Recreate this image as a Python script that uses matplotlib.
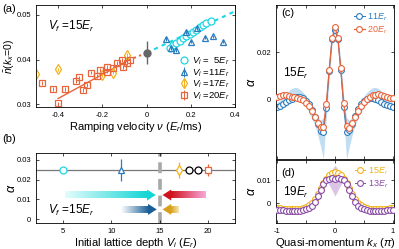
import numpy as np
import matplotlib
matplotlib.use("Agg")
import matplotlib.pyplot as plt
from matplotlib.patches import Polygon
from matplotlib.colors import to_rgb

plt.rcParams['font.family'] = ['Liberation Sans', 'DejaVu Sans']
plt.rcParams['mathtext.fontset'] = 'custom'
plt.rcParams['mathtext.rm'] = 'Liberation Sans'
plt.rcParams['mathtext.it'] = 'Liberation Sans:italic'
plt.rcParams['xtick.direction'] = 'in'
plt.rcParams['ytick.direction'] = 'in'
plt.rcParams['xtick.top'] = True
plt.rcParams['ytick.right'] = True
plt.rcParams['xtick.major.size'] = 2.5
plt.rcParams['ytick.major.size'] = 2.5
plt.rcParams['xtick.major.width'] = 0.5
plt.rcParams['ytick.major.width'] = 0.5
plt.rcParams['axes.linewidth'] = 0.6
plt.rcParams['xtick.labelsize'] = 5.5
plt.rcParams['ytick.labelsize'] = 5.5

CYAN = '#1ED6E6'
BLUE = '#2B7BBF'
GOLD = '#F2B21B'
ORANGE = '#E8643A'
PURPLE = '#8A4CA6'
GRAY = '#666666'

# ---- (a) n(kx=0) vs ramping velocity
v5 = [0.105, 0.120, 0.135, 0.150, 0.165, 0.180, 0.195, 0.210, 0.225, 0.240, 0.255, 0.270, 0.290]
n5 = [0.0427, 0.0432, 0.0437, 0.0442, 0.0448, 0.0453, 0.0457, 0.0461, 0.0466, 0.0472, 0.0478, 0.0482, 0.0486]
v11 = [0.088, 0.111, 0.133, 0.179, 0.201, 0.229, 0.265, 0.301, 0.346]
n11 = [0.0446, 0.0426, 0.0421, 0.0462, 0.0440, 0.0471, 0.0449, 0.0452, 0.0440]
v17 = [-0.500, -0.399, -0.203, -0.150, -0.090]
n17 = [0.0368, 0.0378, 0.0366, 0.0371, 0.0410]
v20 = [-0.471, -0.422, -0.369, -0.402, -0.319, -0.304, -0.289, -0.271, -0.251, -0.225,
       -0.210, -0.180, -0.177, -0.150, -0.135, -0.112, -0.105, -0.090, -0.075]
n20 = [0.0347, 0.0334, 0.0334, 0.0302, 0.0351, 0.0360, 0.0332, 0.0343, 0.0371, 0.0363,
       0.0377, 0.0373, 0.0384, 0.0381, 0.0392, 0.0399, 0.0384, 0.0392, 0.0399]
v_ref, n_ref, n_ref_err = 0.0, 0.0415, 0.0026
fit20_v, fit20_n = [-0.40, -0.08], [0.0313, 0.0399]
fit20d_v, fit20d_n = [-0.08, 0.0], [0.0399, 0.0415]
fit5_v, fit5_n = [0.0, 0.40], [0.0415, 0.0508]

# ---- (b) alpha vs initial depth
vi_b = [5, 11, 17, 18, 19, 20]
alpha_b = [0.025, 0.025, 0.025, 0.025, 0.025, 0.025]
alpha_b_err = [0.0, 0.0055, 0.004, 0.0, 0.0, 0.003]
mk_b = ['o', '^', 'd', 'o', 'o', 's']
col_b = [CYAN, BLUE, GOLD, 'k', 'k', ORANGE]

# ---- (c), (d) alpha vs quasi-momentum
kx = np.linspace(-1, 1, 41)
c11 = [-0.0032, -0.0028, -0.0020, -0.0012, -0.0005, 0.0002, 0.0008, 0.0010, 0.0008, 0.0003,
       -0.0007, -0.0022, -0.0045, -0.0075, -0.0108, -0.0135, -0.0140, -0.0040, 0.0120, 0.0255,
       0.0292, 0.0255, 0.0125, -0.0035, -0.0138, -0.0132, -0.0105, -0.0072, -0.0042, -0.0020,
       -0.0008, 0.0000, 0.0004, 0.0004, 0.0002, -0.0004, -0.0012, -0.0020, -0.0026, -0.0031, -0.0033]
c20 = [0.0010, 0.0014, 0.0016, 0.0016, 0.0013, 0.0010, 0.0008, 0.0006, 0.0002, -0.0005,
       -0.0015, -0.0030, -0.0050, -0.0075, -0.0100, -0.0120, -0.0118, -0.0020, 0.0125, 0.0258,
       0.0308, 0.0258, 0.0130, -0.0015, -0.0115, -0.0122, -0.0102, -0.0078, -0.0052, -0.0030,
       -0.0012, 0.0002, 0.0010, 0.0016, 0.0019, 0.0020, 0.0018, 0.0013, 0.0008, 0.0004, 0.0005]
c_lo = [-0.0040, -0.0035, -0.0028, -0.0020, -0.0012, -0.0008, -0.0006, -0.0008, -0.0012, -0.0020,
        -0.0035, -0.0055, -0.0080, -0.0110, -0.0150, -0.0200, -0.0255, -0.0080, 0.0080, 0.0235,
        0.0280, 0.0235, 0.0080, -0.0080, -0.0255, -0.0200, -0.0150, -0.0110, -0.0080, -0.0055,
        -0.0035, -0.0020, -0.0012, -0.0008, -0.0006, -0.0008, -0.0012, -0.0020, -0.0028, -0.0035, -0.0040]
c_hi = [-0.0015, -0.0005, 0.0008, 0.0022, 0.0035, 0.0045, 0.0050, 0.0048, 0.0040, 0.0028,
        0.0012, -0.0008, -0.0030, -0.0052, -0.0075, -0.0090, -0.0080, 0.0015, 0.0165, 0.0275,
        0.0310, 0.0275, 0.0165, 0.0015, -0.0080, -0.0090, -0.0075, -0.0052, -0.0030, -0.0008,
        0.0012, 0.0028, 0.0040, 0.0048, 0.0050, 0.0045, 0.0035, 0.0022, 0.0008, -0.0005, -0.0015]
d13 = [-0.0030, -0.0031, -0.0032, -0.0033, -0.0034, -0.0034, -0.0034, -0.0034, -0.0033, -0.0031,
       -0.0028, -0.0022, -0.0012, 0.0005, 0.0030, 0.0058, 0.0082, 0.0098, 0.0106, 0.0107,
       0.0104, 0.0107, 0.0106, 0.0098, 0.0082, 0.0058, 0.0030, 0.0005, -0.0012, -0.0022,
       -0.0028, -0.0031, -0.0033, -0.0034, -0.0034, -0.0034, -0.0034, -0.0033, -0.0032, -0.0031, -0.0030]
d15 = [-0.0020, -0.0022, -0.0024, -0.0025, -0.0026, -0.0026, -0.0026, -0.0025, -0.0024, -0.0022,
       -0.0018, -0.0010, 0.0002, 0.0018, 0.0040, 0.0065, 0.0088, 0.0106, 0.0120, 0.0130,
       0.0134, 0.0130, 0.0120, 0.0106, 0.0088, 0.0065, 0.0040, 0.0018, 0.0002, -0.0010,
       -0.0018, -0.0022, -0.0024, -0.0025, -0.0026, -0.0026, -0.0026, -0.0025, -0.0024, -0.0022, -0.0020]
kx_band_d = [-0.15, -0.10, -0.05, 0.0, 0.05, 0.10, 0.15]
d_lo = [0.0098, 0.0080, 0.0055, 0.0030, 0.0055, 0.0080, 0.0098]
d_hi = [0.0098, 0.0120, 0.0145, 0.0165, 0.0145, 0.0120, 0.0098]


def grad_arrow(ax, x_tail, x_tip, y, c_tail, c_head, shaft_h=0.0034, head_h=0.0056, head_l=0.9):
    d = np.sign(x_tip - x_tail)
    x_base = x_tip - d * head_l
    t = np.linspace(0, 1, 200)
    c0, c1 = np.array(to_rgb(c_tail)), np.array(to_rgb(c_head))
    img = c0[None, :] * (1 - t[:, None]) + c1[None, :] * t[:, None]
    if d < 0:
        img = img[::-1]
    ax.imshow(img[None, :, :], extent=[min(x_tail, x_base), max(x_tail, x_base),
                                        y - shaft_h / 2, y + shaft_h / 2],
              aspect='auto', interpolation='bilinear', zorder=2)
    ax.add_patch(Polygon([[x_base, y - head_h / 2], [x_tip, y], [x_base, y + head_h / 2]],
                         closed=True, color=c_head, lw=0, zorder=2))


fig = plt.figure(figsize=(3.99, 2.49), dpi=100)
ax_a = fig.add_axes([0.0902, 0.5703, 0.4987, 0.4096])
ax_b = fig.add_axes([0.0902, 0.1044, 0.4987, 0.2811])
ax_c = fig.add_axes([0.6917, 0.3614, 0.2957, 0.6185])
ax_d = fig.add_axes([0.6917, 0.1044, 0.2957, 0.2530])

# (a)
ax_a.plot(fit20_v, fit20_n, '-', color=ORANGE, lw=1.0, zorder=1)
ax_a.plot(fit20d_v, fit20d_n, ':', color=ORANGE, lw=1.5, zorder=1)
ax_a.plot(fit5_v, fit5_n, '--', color=CYAN, lw=1.5, dashes=(2, 2), zorder=1)
ax_a.plot(v5, n5, 'o', ms=5, mfc='white', mec=CYAN, mew=0.9, label=r'$V_i$ =  5$E_r$')
ax_a.errorbar(v11, n11, yerr=0.0004, fmt='^', ms=5, mfc='none', mec=BLUE, ecolor=BLUE,
              mew=0.9, elinewidth=0.7, label=r'$V_i$ =11$E_r$')
ax_a.errorbar(v17, n17, yerr=0.0004, fmt='d', ms=5, mfc='none', mec=GOLD, ecolor=GOLD,
              mew=0.9, elinewidth=0.7, label=r'$V_i$ =17$E_r$')
ax_a.errorbar(v20, n20, yerr=0.0004, fmt='s', ms=5, mfc='none', mec=ORANGE, ecolor=ORANGE,
              mew=0.9, elinewidth=0.7, label=r'$V_i$ =20$E_r$')
ax_a.errorbar([v_ref], [n_ref], yerr=[n_ref_err], fmt='o', ms=5, color=GRAY, ecolor=GRAY,
              elinewidth=1.0, zorder=5)
ax_a.set_xlim(-0.5, 0.4)
ax_a.set_ylim(0.0294, 0.0522)
ax_a.set_xticks([-0.4, -0.2, 0, 0.2, 0.4])
ax_a.set_xticklabels(['-0.4', '-0.2', '0', '0.2', '0.4'])
ax_a.set_yticks([0.03, 0.04, 0.05])
ax_a.set_yticklabels(['0.03', '0.04', '0.05'])
ax_a.set_xlabel(r'Ramping velocity $\nu$ ($E_r$/ms)', fontsize=8, labelpad=1)
ax_a.set_ylabel(r'$\bar{n}(k_x\!=\!0)$', fontsize=7.5)
ax_a.yaxis.set_label_coords(-0.095, 0.5)
ax_a.text(-0.445, 0.0474, r'$V_f$ =15$E_r$', fontsize=8.5, va='center')
ax_a.legend(loc='lower right', frameon=False, fontsize=6.8, handlelength=1.0,
            handletextpad=0.35, labelspacing=0.0, borderaxespad=0.15)

# (b)
ax_b.axhline(0.025, color='#777777', lw=0.9, zorder=1)
ax_b.axvline(15, color='#A8A8A8', lw=2.6, dashes=(3, 1.6), zorder=1)
for x, y, e, m, c in zip(vi_b, alpha_b, alpha_b_err, mk_b, col_b):
    ax_b.errorbar([x], [y], yerr=[e] if e > 0 else None, fmt=m, ms=5, mfc='white', mec=c,
                  ecolor=c, mew=0.9, elinewidth=0.9, zorder=3)
grad_arrow(ax_b, 5.2, 14.6, 0.0122, '#E4FCFC', '#14D6D6')
grad_arrow(ax_b, 19.8, 15.3, 0.0122, '#F7A8DA', '#D0141E')
grad_arrow(ax_b, 11.0, 14.7, 0.0049, '#FFFFFF', '#1A5E96')
grad_arrow(ax_b, 17.0, 15.3, 0.0049, '#F4E6BC', '#D8A11C')
ax_b.text(3.4, 0.0046, r'$V_f$ =15$E_r$', fontsize=8.5, va='center')
ax_b.set_xlim(2.2, 22.8)
ax_b.set_ylim(-0.002, 0.0335)
ax_b.set_xticks([5, 10, 15, 20])
ax_b.set_yticks([0, 0.01, 0.02, 0.03])
ax_b.set_yticklabels(['0', '0.01', '0.02', '0.03'])
ax_b.set_xlabel(r'Initial lattice depth $V_i$ ($E_r$)', fontsize=8, labelpad=1)
ax_b.set_ylabel(r'$\alpha$', fontsize=9)
ax_b.yaxis.set_label_coords(-0.09, 0.5)

# (c)
ax_c.fill_between(kx, c_lo, c_hi, color='#8EC1E8', alpha=0.55, lw=0, zorder=1)
ax_c.plot(kx, c11, '-o', color=BLUE, lw=0.7, ms=4.2, mfc='white', mew=0.8, label=r'11$E_r$', zorder=2)
ax_c.plot(kx, c20, '-o', color=ORANGE, lw=0.9, ms=4.2, mfc='white', mew=0.8, label=r'20$E_r$', zorder=3)
ax_c.set_xlim(-1.02, 1.02)
ax_c.set_ylim(-0.0255, 0.04)
ax_c.set_xticks([-1, -0.5, 0, 0.5, 1])
ax_c.set_xticklabels([])
ax_c.set_yticks([0, 0.02])
ax_c.set_yticklabels(['0', '0.02'])
ax_c.set_ylabel(r'$\alpha$', fontsize=9)
ax_c.yaxis.set_label_coords(-0.15, 0.5)
ax_c.text(-0.93, 0.0368, '(c)', fontsize=8, va='center')
ax_c.text(-0.9, 0.011, r'15$E_r$', fontsize=8.5, va='center')
ax_c.legend(loc='upper right', frameon=False, fontsize=6.5, handlelength=1.2,
            handletextpad=0.3, labelspacing=0.15, borderaxespad=0.3, labelcolor='linecolor')

# (d)
ax_d.fill_between(kx_band_d, d_lo, d_hi, color='#B07CC6', alpha=0.45, lw=0, zorder=1)
ax_d.plot(kx, d15, '-o', color=GOLD, lw=0.7, ms=4.2, mfc='white', mew=0.8, label=r'15$E_r$', zorder=2)
ax_d.plot(kx, d13, '-o', color=PURPLE, lw=0.7, ms=4.2, mfc='white', mew=0.8, label=r'13$E_r$', zorder=3)
ax_d.set_xlim(-1.02, 1.02)
ax_d.set_ylim(-0.0087, 0.0187)
ax_d.set_xticks([-1, -0.5, 0, 0.5, 1])
ax_d.set_xticklabels(['-1', '', '0', '', '1'])
ax_d.set_yticks([0, 0.01])
ax_d.set_yticklabels(['0', '0.01'])
ax_d.set_ylabel(r'$\alpha$', fontsize=9)
ax_d.yaxis.set_label_coords(-0.15, 0.5)
ax_d.set_xlabel(r'Quasi-momentum $k_x$ ($\pi$)', fontsize=8, labelpad=1)
ax_d.text(-0.93, 0.013, '(d)', fontsize=8, va='center')
ax_d.text(-0.9, 0.0048, r'19$E_r$', fontsize=8.5, va='center')
ax_d.legend(loc='upper right', frameon=False, fontsize=6.5, handlelength=1.2,
            handletextpad=0.3, labelspacing=0.15, borderaxespad=0.2, labelcolor='linecolor')

fig.text(0.005, 0.985, '(a)', fontsize=8, va='top')
fig.text(0.005, 0.44, '(b)', fontsize=8, va='center')

fig.savefig('out.png', dpi=100)
